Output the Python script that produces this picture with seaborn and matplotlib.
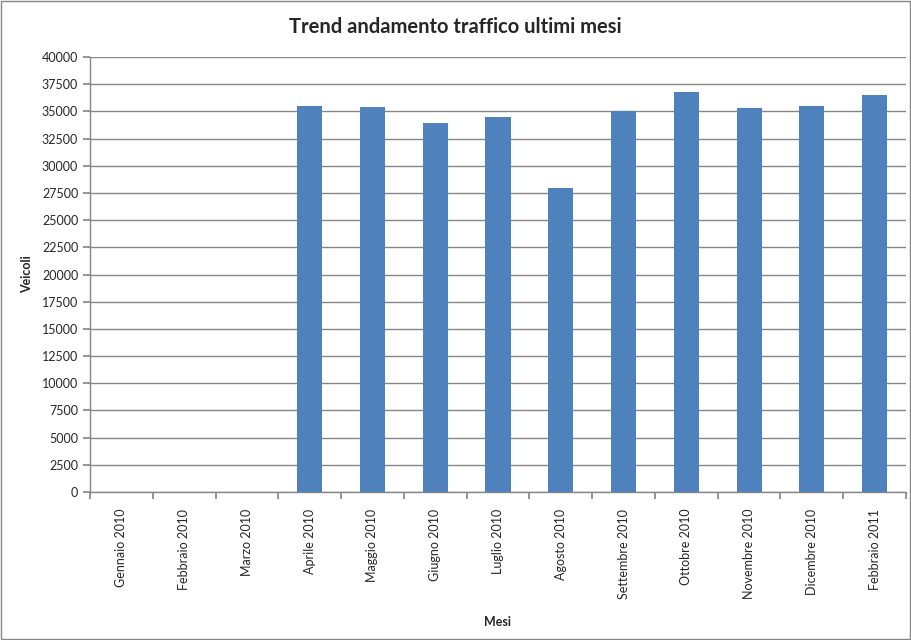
import matplotlib
matplotlib.use("Agg")
import matplotlib.pyplot as plt
import seaborn as sns
import pandas as pd
import numpy as np
from matplotlib.patches import Rectangle

months = ["Gennaio 2010", "Febbraio 2010", "Marzo 2010", "Aprile 2010", "Maggio 2010",
          "Giugno 2010", "Luglio 2010", "Agosto 2010", "Settembre 2010", "Ottobre 2010",
          "Novembre 2010", "Dicembre 2010", "Febbraio 2011"]
veicoli = [0, 0, 0, 35500, 35400, 33900, 34500, 28000, 35000, 36800, 35300, 35500, 36500]
yticks = list(range(0, 40001, 2500))

sns.set_theme(style="white")
plt.rcParams['font.family'] = ['Lato', 'DejaVu Sans']

df = pd.DataFrame({"Mesi": months, "Veicoli": veicoli})

fig = plt.figure(figsize=(9.12, 6.4), dpi=100)
ax = fig.add_axes([90/912, 1 - 492/640, (906-90)/912, (492-57)/640])

sns.barplot(data=df, x="Mesi", y="Veicoli", order=months, color="#4F81BD",
            width=0.4, saturation=1, linewidth=0, ax=ax, zorder=3)

ax.set_ylim(0, 40000)
ax.set_xlim(-0.5, len(months) - 0.5)
ax.set_yticks(yticks)
ax.set_yticklabels([str(v) for v in yticks], fontsize=9)
ax.yaxis.grid(True, color="#868686", linewidth=1, zorder=0)
ax.set_axisbelow(True)

# category boundary ticks (Excel style) and centered labels
ax.set_xticks(np.arange(-0.5, len(months), 1.0))
ax.set_xticklabels([])
ax.set_xticks(np.arange(len(months)), minor=True)
ax.set_xticklabels(months, minor=True, rotation=90, fontsize=9)
ax.tick_params(axis="x", which="major", length=5, direction="out", color="#868686", bottom=True)
ax.tick_params(axis="x", which="minor", length=0, pad=12)
ax.tick_params(axis="y", length=5, direction="out", color="#868686", left=True)

for s in ["top", "right"]:
    ax.spines[s].set_visible(False)
for s in ["left", "bottom"]:
    ax.spines[s].set_color("#868686")
    ax.spines[s].set_linewidth(1)

ax.set_xlabel("Mesi", fontsize=9, fontweight="bold", labelpad=12)
ax.set_ylabel("Veicoli", fontsize=9, fontweight="bold", labelpad=6)
fig.text(455/912, 1 - 27/640, "Trend andamento traffico ultimi mesi", ha="center", va="center",
         fontsize=14.5, fontweight="bold")

fig.patches.append(Rectangle((0.001, 0.001), 0.997, 0.997, transform=fig.transFigure,
                             fill=False, edgecolor="#868686", linewidth=1))

fig.savefig("out.png", dpi=100)
